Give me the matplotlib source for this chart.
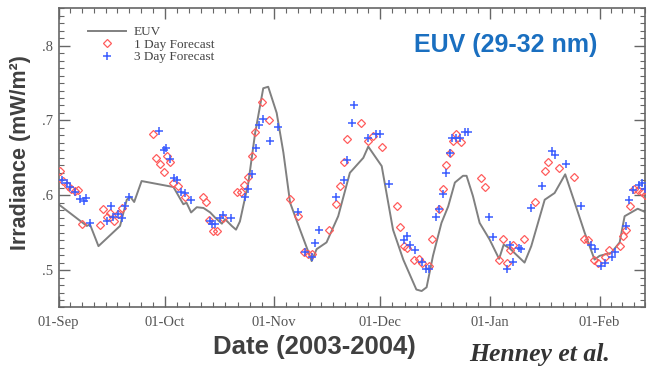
import datetime as dt
import numpy as np
import matplotlib
matplotlib.use("Agg")
import matplotlib.pyplot as plt
import matplotlib.dates as mdates
from matplotlib.lines import Line2D
from matplotlib.ticker import FixedLocator, FuncFormatter, MultipleLocator

# days since 01-Sep-2003
euv_day = [0, 8.0, 8.9, 11.3, 17.4, 19.3, 20.3, 21.4, 23.5, 32.5, 35.3, 36.2, 37.5, 39.1,
           41.0, 42.9, 44.3, 46.2, 47.1, 49.0, 50.2, 51.3, 53.7, 55.6, 57.9, 59.3, 61.7,
           63.6, 65.5, 68.3, 70.6, 71.6, 73.0, 75.8, 79.1, 82.4, 86.2, 87.6, 91.4, 94.6,
           97.5, 101.2, 102.7, 104.1, 105.9, 108.3, 110.2, 112.1, 114.4, 115.4, 117.2,
           119.1, 121.9, 124.6, 125.9, 127.6, 131.8, 133.7, 137.5, 140.3, 143.3, 146.0,
           148.8, 151.6, 153.0, 156.3, 158.7, 160.1, 163.8, 166.2]
euv_val = [0.588, 0.559, 0.561, 0.532, 0.559, 0.594, 0.598, 0.591, 0.619, 0.611, 0.588,
           0.590, 0.577, 0.584, 0.583, 0.577, 0.570, 0.562, 0.568, 0.559, 0.554, 0.565,
           0.617, 0.683, 0.743, 0.745, 0.710, 0.657, 0.590, 0.554, 0.525, 0.512, 0.528,
           0.537, 0.572, 0.630, 0.650, 0.665, 0.639, 0.554, 0.514, 0.474, 0.472, 0.477,
           0.519, 0.563, 0.585, 0.617, 0.626, 0.626, 0.599, 0.563, 0.541, 0.515, 0.534,
           0.529, 0.510, 0.532, 0.594, 0.603, 0.628, 0.590, 0.550, 0.514, 0.519, 0.523,
           0.537, 0.572, 0.582, 0.577]

day1_day = [0.5, 1.4, 2.7, 3.6, 4.7, 5.6, 6.6, 11.6, 12.7, 13.7, 14.6, 15.8, 16.8, 17.9,
            26.7, 27.6, 28.7, 29.7, 30.6, 31.6, 32.5, 33.7, 35.8, 40.8, 41.7, 42.7, 43.8,
            44.7, 46.6, 50.6, 51.5, 52.5, 53.7, 54.6, 55.6, 57.6, 59.6, 65.5, 67.6, 69.5,
            70.6, 71.8, 76.5, 78.6, 79.6, 80.7, 81.6, 85.5, 87.6, 88.8, 91.6, 95.6, 96.5,
            97.6, 98.6, 100.6, 101.9, 102.7, 104.7, 105.7, 107.6, 108.8, 109.7, 110.6,
            111.6, 112.5, 113.8, 119.6, 120.5, 124.7, 125.7, 126.7, 127.6, 128.5, 131.6,
            134.7, 137.7, 138.4, 141.5, 145.7, 148.6, 149.8, 151.5, 152.6, 154.5, 155.7,
            158.7, 159.6, 160.6, 161.5, 162.8, 163.9, 165.0, 165.9]
day1_val = [0.633, 0.619, 0.613, 0.608, 0.606, 0.607, 0.562, 0.560, 0.581, 0.571, 0.576,
            0.566, 0.575, 0.583, 0.682, 0.650, 0.642, 0.631, 0.652, 0.645, 0.617, 0.613,
            0.597, 0.597, 0.591, 0.567, 0.552, 0.552, 0.570, 0.605, 0.605, 0.614, 0.625,
            0.652, 0.685, 0.725, 0.700, 0.595, 0.572, 0.524, 0.522, 0.522, 0.553, 0.588,
            0.612, 0.644, 0.675, 0.697, 0.673, 0.679, 0.665, 0.585, 0.557, 0.532, 0.529,
            0.514, 0.515, 0.510, 0.505, 0.541, 0.582, 0.608, 0.641, 0.657, 0.673, 0.682,
            0.671, 0.623, 0.611, 0.513, 0.541, 0.509, 0.527, 0.533, 0.541, 0.591, 0.632,
            0.644, 0.636, 0.625, 0.542, 0.540, 0.514, 0.509, 0.517, 0.527, 0.532, 0.546,
            0.553, 0.586, 0.608, 0.607, 0.605, 0.601]

day3_day = [1.0, 2.4, 3.3, 4.7, 6.1, 7.1, 7.7, 8.8, 13.7, 14.8, 15.5, 16.8, 17.9, 18.8,
            19.8, 28.5, 29.7, 30.4, 31.4, 32.7, 33.6, 34.7, 35.8, 37.5, 42.9, 43.5, 44.3,
            45.7, 46.6, 48.7, 52.7, 53.7, 54.6, 55.8, 56.8, 57.7, 59.8, 62.0, 67.8, 69.7,
            71.6, 72.5, 73.7, 78.4, 80.7, 81.5, 82.9, 83.7, 87.6, 89.9, 90.9, 93.5, 97.6,
            98.6, 99.5, 100.9, 102.7, 103.9, 104.8, 106.7, 107.6, 108.6, 109.7, 110.6,
            111.4, 112.3, 113.5, 114.9, 115.8, 121.8, 122.9, 126.9, 127.6, 128.5, 130.1,
            130.9, 133.5, 136.6, 139.6, 140.5, 143.4, 147.7, 150.7, 151.6, 153.3, 154.5,
            156.6, 157.5, 160.6, 161.3, 162.4, 164.2, 165.0, 165.9]
day3_val = [0.621, 0.616, 0.611, 0.604, 0.595, 0.592, 0.596, 0.563, 0.565, 0.586, 0.571,
            0.575, 0.569, 0.585, 0.598, 0.686, 0.660, 0.663, 0.648, 0.623, 0.621, 0.605,
            0.603, 0.593, 0.565, 0.561, 0.561, 0.570, 0.574, 0.570, 0.597, 0.608, 0.628,
            0.663, 0.694, 0.702, 0.673, 0.691, 0.577, 0.524, 0.517, 0.536, 0.553, 0.597,
            0.621, 0.647, 0.697, 0.720, 0.677, 0.682, 0.682, 0.615, 0.540, 0.545, 0.534,
            0.527, 0.511, 0.501, 0.501, 0.571, 0.582, 0.602, 0.630, 0.657, 0.677, 0.677,
            0.677, 0.685, 0.685, 0.571, 0.544, 0.502, 0.534, 0.511, 0.529, 0.528, 0.583,
            0.613, 0.659, 0.654, 0.642, 0.585, 0.534, 0.528, 0.505, 0.509, 0.517, 0.524,
            0.559, 0.593, 0.607, 0.614, 0.617, 0.608]

start = mdates.date2num(dt.datetime(2003, 9, 1))
to_date = lambda d: start + np.asarray(d)

axis_grey = "#666666"
label_grey = "#555555"

fig = plt.figure(figsize=(6.48, 3.71), dpi=100)
ax = fig.add_axes([0.0903, 0.1712, 0.9058, 0.8067])

ax.plot(to_date(euv_day), euv_val, color="#808080", lw=1.4, zorder=2)
ax.plot(to_date(day1_day), day1_val, ls="none", marker="D", ms=3.8, mfc="none",
        mec="#ff5c5c", mew=0.9, zorder=3)
ax.plot(to_date(day3_day), day3_val, ls="none", marker="+", ms=5.5,
        mec="#3a5cff", mew=1.1, zorder=3)

ax.set_xlim(start, start + 166)
ax.set_ylim(0.45, 0.85)

# month ticks, 9 minor divisions per month
months = [dt.datetime(2003, m, 1) for m in range(9, 13)] + \
         [dt.datetime(2004, m, 1) for m in range(1, 4)]
mnum = [mdates.date2num(m) for m in months]
minor = []
for a, b in zip(mnum[:-1], mnum[1:]):
    minor += list(np.linspace(a, b, 10)[1:-1])
ax.xaxis.set_major_locator(FixedLocator(mnum[:-1]))
ax.xaxis.set_minor_locator(FixedLocator(minor))
ax.xaxis.set_major_formatter(mdates.DateFormatter("%d-%b"))
ax.yaxis.set_major_locator(MultipleLocator(0.1))
ax.yaxis.set_minor_locator(MultipleLocator(0.01))
ax.yaxis.set_major_formatter(FuncFormatter(lambda v, p: ("%.1f" % v).lstrip("0")))

ax.tick_params(which="both", direction="in", top=True, right=True, color=axis_grey,
               labelcolor=label_grey, labelsize=10.5)
ax.tick_params(which="major", length=8, width=1.0)
ax.tick_params(which="minor", length=3.5, width=0.8)
ax.tick_params(axis="x", pad=6)
ax.tick_params(axis="y", pad=4)
for lab in ax.get_xticklabels() + ax.get_yticklabels():
    lab.set_fontfamily("Liberation Serif")
for sp in ax.spines.values():
    sp.set_color(axis_grey)
    sp.set_linewidth(1.2)

handles = [
    Line2D([], [], color="#808080", lw=1.4, label="EUV"),
    Line2D([], [], ls="none", marker="D", ms=3.8, mfc="none", mec="#ff5c5c", mew=0.9,
           label="1 Day Forecast"),
    Line2D([], [], ls="none", marker="+", ms=5.5, mec="#3a5cff", mew=1.1,
           label="3 Day Forecast"),
]
leg = ax.legend(handles=handles, loc="upper left", bbox_to_anchor=(0.05, 0.94),
                frameon=False, handlelength=2.9, handletextpad=0.6, labelspacing=0.02,
                borderaxespad=0, borderpad=0,
                prop={"family": "Liberation Serif", "size": 9.5})
for t in leg.get_texts():
    t.set_color("#444444")

fig.text(506 / 648, 1 - 45 / 371, "EUV (29-32 nm)", color="#1a6fc0", fontsize=18,
         fontweight="bold", family="Liberation Sans", ha="center", va="center")
fig.text(21 / 648, 1 - 153 / 371, "Irradiance (mW/m²)", color="#404040", fontsize=15.5,
         fontweight="bold", family="Liberation Sans", rotation=90, ha="center", va="center")
fig.text(314 / 648, 1 - 347 / 371, "Date (2003-2004)", color="#404040", fontsize=18.5,
         fontweight="bold", family="Liberation Sans", ha="center", va="center")
fig.text(540 / 648, 1 - 354 / 371, "Henney et al.", color="#333333", fontsize=18.5,
         fontweight="bold", style="italic", family="Liberation Serif",
         ha="center", va="center")

fig.savefig("out.png", dpi=100)
